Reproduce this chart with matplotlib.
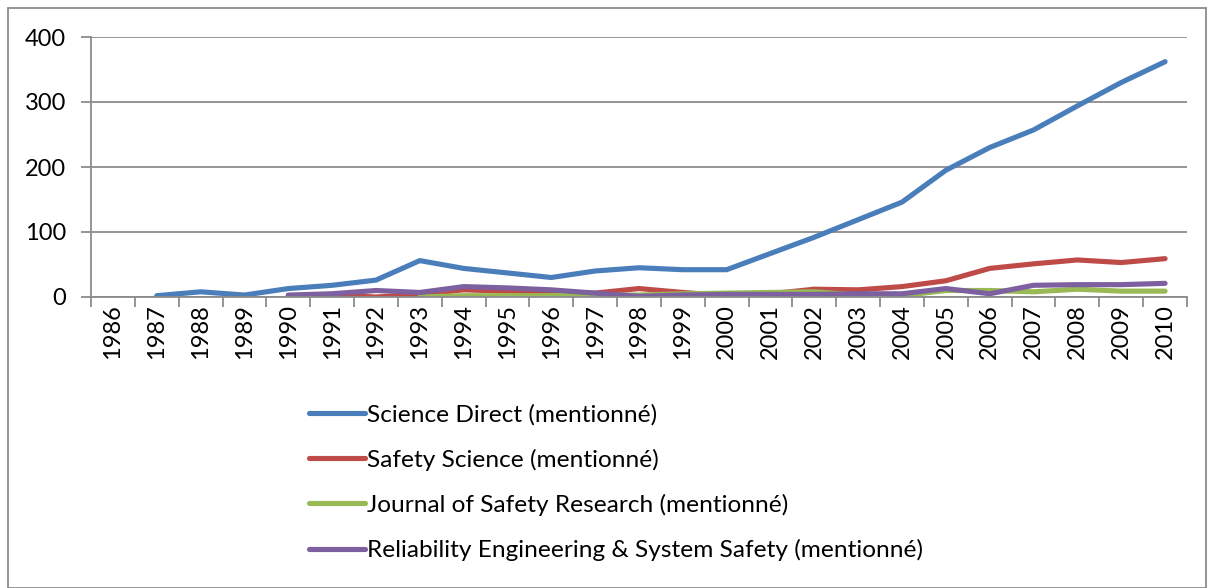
import numpy as np
import matplotlib
matplotlib.use("Agg")
import matplotlib.pyplot as plt
from matplotlib.patches import Rectangle

plt.rcParams['font.family'] = ['Lato', 'DejaVu Sans']

years = [str(y) for y in range(1986, 2011)]
nan = np.nan
science_direct = [nan, 2, 8, 3, 13, 18, 26, 56, 44, 37, 30, 40, 45, 42, 42,
                  67, 92, 119, 146, 195, 230, 257, 294, 330, 362]
safety_science = [nan, nan, nan, nan, 2, 3, 0, 4, 11, 9, 7, 6, 13, 7, 2,
                  5, 12, 11, 16, 25, 44, 51, 57, 53, 59]
jsr = [nan, nan, nan, nan, nan, nan, nan, 0, 2, 2, 2, 3, 3, 5, 6,
       7, 8, 3, 2, 10, 10, 8, 12, 9, 9]
ress = [nan, nan, nan, nan, 3, 5, 10, 7, 16, 14, 11, 6, 1, 3, 4,
        4, 4, 5, 5, 13, 5, 18, 19, 19, 21]

labels = ["Science Direct (mentionné)", "Safety Science (mentionné)",
          "Journal of Safety Research (mentionné)",
          "Reliability Engineering & System Safety (mentionné)"]
colors = ["#4A7EBB", "#BE4B48", "#98B954", "#7D60A0"]
series = [science_direct, safety_science, jsr, ress]

W, H = 1214, 588
fig = plt.figure(figsize=(W/100, H/100), dpi=100)
ax = fig.add_axes([91/W, 1-297/H, (1187-91)/W, (297-37)/H])

x = np.arange(len(years))
handles = []
for s, c, l in zip(series, colors, labels):
    h, = ax.plot(x, np.array(s, dtype=float), color=c, lw=3.7, label=l,
                 solid_capstyle='round', solid_joinstyle='round')
    handles.append(h)

ax.set_xlim(-0.5, len(years)-0.5)
ax.set_ylim(0, 400)
ax.set_yticks([0, 100, 200, 300, 400])
ax.yaxis.grid(True, color='#8C8C8C', lw=1.3)
ax.set_axisbelow(True)
for sp in ['top', 'right']:
    ax.spines[sp].set_visible(False)
for sp in ['left', 'bottom']:
    ax.spines[sp].set_color('#8C8C8C')
    ax.spines[sp].set_linewidth(1.3)

ax.set_xticks(x)
ax.set_xticklabels(years, rotation=90, fontsize=17)
ax.set_xticks(np.arange(-0.5, len(years), 1.0), minor=True)
ax.tick_params(axis='x', which='major', length=0, pad=5)
ax.tick_params(axis='x', which='minor', length=7, width=1.3, color='#8C8C8C')
ax.tick_params(axis='y', length=7, width=1.3, color='#8C8C8C', labelsize=17, pad=11)

leg = fig.legend(handles=handles, loc='upper left', bbox_to_anchor=(299/W, 1-394/H),
                 frameon=False, fontsize=17.6, handlelength=2.3, handletextpad=0.1,
                 labelspacing=0.95, borderaxespad=0)

fig.patches.append(Rectangle((8/W, 0), (1206-8)/W, 1-8/H, transform=fig.transFigure,
                             fill=False, edgecolor='#8C8C8C', lw=1.3))

fig.savefig("out.png", dpi=100)
